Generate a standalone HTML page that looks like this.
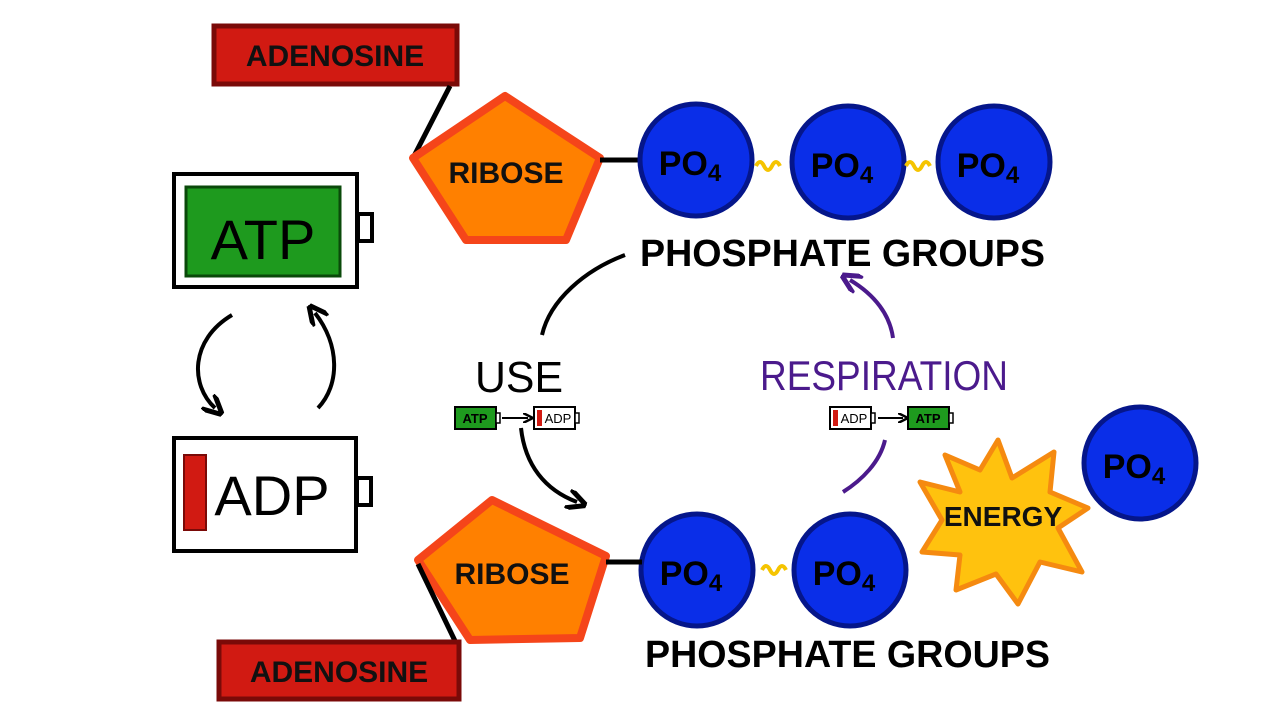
<!DOCTYPE html>
<html><head><meta charset="utf-8"><style>
html,body{margin:0;padding:0;background:#fff;}
svg{display:block;}
text{font-family:"Liberation Sans",sans-serif;font-weight:bold;}
</style></head><body>
<svg width="1280" height="720" viewBox="0 0 1280 720" xmlns="http://www.w3.org/2000/svg">
<defs>
<marker id="ah" viewBox="0 0 10 10" refX="5" refY="5" markerWidth="5" markerHeight="5" orient="auto"><path d="M0,0 L10,5 L0,10" fill="none" stroke="#000" stroke-width="2.5"/></marker>
<marker id="ahp" viewBox="0 0 10 10" refX="5" refY="5" markerWidth="5" markerHeight="5" orient="auto"><path d="M0,0 L10,5 L0,10" fill="none" stroke="#4b1a8c" stroke-width="2.5"/></marker>
</defs>
<rect x="214" y="26" width="243" height="58" fill="#d11a12" stroke="#7a0a08" stroke-width="5"/>
<text x="335" y="66" font-size="30" text-anchor="middle" fill="#111">ADENOSINE</text>
<line x1="450" y1="86" x2="413" y2="158" stroke="#000" stroke-width="5"/>
<polygon points="413,158 505,96 600,158 566,240 466,240" fill="#ff8000" stroke="#f5451a" stroke-width="8" stroke-linejoin="round"/>
<text x="506" y="183" font-size="30" text-anchor="middle" fill="#111">RIBOSE</text>
<line x1="600" y1="160" x2="640" y2="160" stroke="#000" stroke-width="5"/>
<g stroke="#05168a" stroke-width="5" fill="#0a2ee8">
<circle cx="696" cy="160" r="56"/><circle cx="848" cy="162" r="56"/><circle cx="994" cy="162" r="56"/>
<circle cx="697" cy="570" r="56"/><circle cx="850" cy="570" r="56"/><circle cx="1140" cy="463" r="56"/>
</g>
<g font-size="34" fill="#000" text-anchor="middle">
<text x="690" y="175">PO<tspan font-size="24" dy="6">4</tspan></text>
<text x="842" y="177">PO<tspan font-size="24" dy="6">4</tspan></text>
<text x="988" y="177">PO<tspan font-size="24" dy="6">4</tspan></text>
<text x="691" y="585">PO<tspan font-size="24" dy="6">4</tspan></text>
<text x="844" y="585">PO<tspan font-size="24" dy="6">4</tspan></text>
<text x="1134" y="478">PO<tspan font-size="24" dy="6">4</tspan></text>
</g>
<g stroke="#f5c400" stroke-width="4" fill="none">
<path d="M756,166 q4,-8 8,0 q4,8 8,0 q4,-8 8,0"/>
<path d="M906,166 q4,-8 8,0 q4,8 8,0 q4,-8 8,0"/>
<path d="M762,570 q4,-8 8,0 q4,8 8,0 q4,-8 8,0"/>
</g>
<text x="640" y="266" font-size="38" fill="#000" textLength="405" lengthAdjust="spacingAndGlyphs">PHOSPHATE GROUPS</text>
<text x="645" y="667" font-size="38" fill="#000" textLength="405" lengthAdjust="spacingAndGlyphs">PHOSPHATE GROUPS</text>
<rect x="174" y="174" width="183" height="113" fill="#fff" stroke="#000" stroke-width="4"/>
<rect x="358" y="214" width="14" height="27" fill="#fff" stroke="#000" stroke-width="4"/>
<rect x="186" y="187" width="154" height="89" fill="#1e9a1e" stroke="#0a4a0a" stroke-width="3"/>
<text x="263" y="259" font-size="56" text-anchor="middle" fill="#000" style="font-weight:normal">ATP</text>
<rect x="174" y="438" width="182" height="113" fill="#fff" stroke="#000" stroke-width="4"/>
<rect x="357" y="478" width="14" height="27" fill="#fff" stroke="#000" stroke-width="4"/>
<rect x="184" y="455" width="22" height="75" fill="#d11a12" stroke="#7a0a08" stroke-width="2"/>
<text x="272" y="515" font-size="56" text-anchor="middle" fill="#000" style="font-weight:normal">ADP</text>
<path d="M232,315 C190,340 190,385 215,408" fill="none" stroke="#000" stroke-width="4" marker-end="url(#ah)"/>
<path d="M318,408 C340,385 340,345 315,313" fill="none" stroke="#000" stroke-width="4" marker-end="url(#ah)"/>
<path d="M625,255 C585,270 550,300 542,335" fill="none" stroke="#000" stroke-width="4"/>
<text x="475" y="392" font-size="44" fill="#000" textLength="88" lengthAdjust="spacingAndGlyphs" style="font-weight:normal">USE</text>
<path d="M521,428 C525,465 545,490 577,502" fill="none" stroke="#000" stroke-width="4" marker-end="url(#ah)"/>
<rect x="455" y="407" width="41" height="22" fill="#1e9a1e" stroke="#000" stroke-width="2"/>
<rect x="496" y="413" width="4" height="10" fill="#fff" stroke="#000" stroke-width="1.5"/>
<text x="475" y="423" font-size="13" text-anchor="middle" fill="#000">ATP</text>
<line x1="502" y1="418" x2="528" y2="418" stroke="#000" stroke-width="2" marker-end="url(#ah)"/>
<rect x="534" y="407" width="41" height="22" fill="#fff" stroke="#000" stroke-width="2"/>
<rect x="575" y="413" width="4" height="10" fill="#fff" stroke="#000" stroke-width="1.5"/>
<rect x="537" y="410" width="5" height="16" fill="#d11a12"/>
<text x="558" y="423" font-size="13" text-anchor="middle" fill="#000" style="font-weight:normal">ADP</text>
<text x="760" y="390" font-size="42" fill="#4b1a8c" textLength="248" lengthAdjust="spacingAndGlyphs" style="font-weight:normal">RESPIRATION</text>
<path d="M893,338 C890,315 875,295 850,280" fill="none" stroke="#4b1a8c" stroke-width="4" marker-end="url(#ahp)"/>
<path d="M885,440 C880,462 862,480 843,492" fill="none" stroke="#4b1a8c" stroke-width="4"/>
<rect x="830" y="407" width="41" height="22" fill="#fff" stroke="#000" stroke-width="2"/>
<rect x="871" y="413" width="4" height="10" fill="#fff" stroke="#000" stroke-width="1.5"/>
<rect x="833" y="410" width="5" height="16" fill="#d11a12"/>
<text x="854" y="423" font-size="13" text-anchor="middle" fill="#000" style="font-weight:normal">ADP</text>
<line x1="878" y1="418" x2="903" y2="418" stroke="#000" stroke-width="2" marker-end="url(#ah)"/>
<rect x="908" y="407" width="41" height="22" fill="#1e9a1e" stroke="#000" stroke-width="2"/>
<rect x="949" y="413" width="4" height="10" fill="#fff" stroke="#000" stroke-width="1.5"/>
<text x="928" y="423" font-size="13" text-anchor="middle" fill="#000">ATP</text>
<polygon points="418,560 492,500 606,556 580,638 470,640" fill="#ff8000" stroke="#f5451a" stroke-width="8" stroke-linejoin="round"/>
<text x="512" y="584" font-size="30" text-anchor="middle" fill="#111">RIBOSE</text>
<line x1="606" y1="562" x2="642" y2="562" stroke="#000" stroke-width="5"/>
<line x1="418" y1="564" x2="456" y2="643" stroke="#000" stroke-width="5"/>
<rect x="219" y="642" width="240" height="57" fill="#d11a12" stroke="#7a0a08" stroke-width="5"/>
<text x="339" y="682" font-size="30" text-anchor="middle" fill="#111">ADENOSINE</text>
<polygon points="998,440 1012,478 1054,452 1050,492 1088,508 1058,528 1082,572 1040,562 1018,604 996,574 956,590 960,555 922,552 942,520 920,482 960,492 945,455 980,470" fill="#ffc20e" stroke="#f58a10" stroke-width="5" stroke-linejoin="round"/>
<text x="1003" y="526" font-size="28" text-anchor="middle" fill="#111">ENERGY</text>
</svg>
</body></html>
